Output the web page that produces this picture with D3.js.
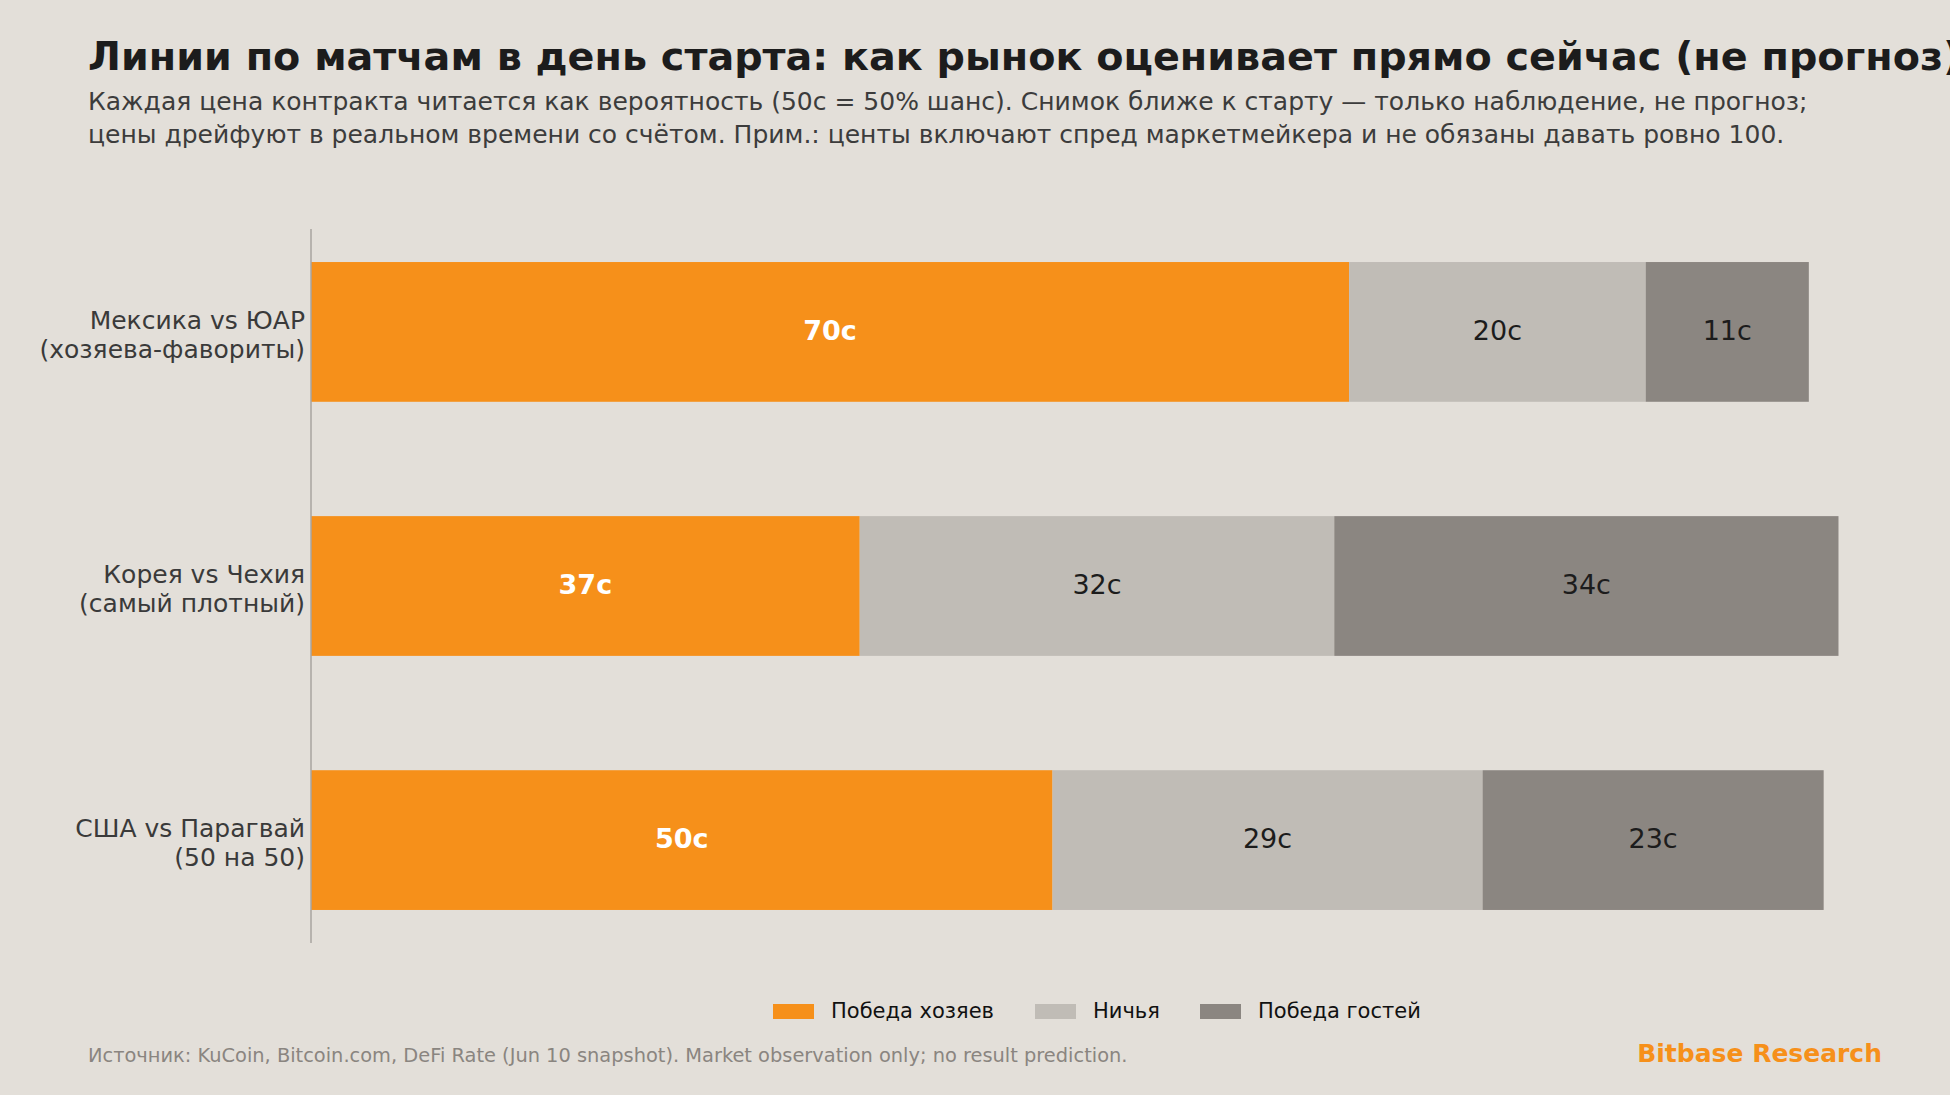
<!DOCTYPE html>
<html>
<head>
<meta charset="utf-8">
<script src="https://cdn.jsdelivr.net/npm/d3@7"></script>
<style>
  html, body { margin: 0; padding: 0; background: #e3dfd9; }
  svg { display: block; font-family: "DejaVu Sans", sans-serif; }
</style>
</head>
<body>
<div id="chart"></div>
<script>
// matches, top to bottom
const matches = ["Мексика vs ЮАР|(хозяева-фавориты)", "Корея vs Чехия|(самый плотный)", "США vs Парагвай|(50 на 50)"];
const homeWin = [70, 37, 50];
const draw = [20, 32, 29];
const awayWin = [11, 34, 23];
const seriesNames = ["Победа хозяев", "Ничья", "Победа гостей"];
const seriesColors = ["#f6901a", "#c0bcb6", "#8b8681"];

let width = 1950;
let height = 1095;

let svg = d3.select("#chart")
  .append("svg")
  .attr("width", width)
  .attr("height", height);

svg.append("rect").attr("width", width).attr("height", height).attr("fill", "#e3dfd9");

/* titles */
svg.append("text")
  .attr("x", 88).attr("y", 70)
  .attr("font-size", 39.7).attr("font-weight", "bold").attr("fill", "#1c1c1c")
  .text("Линии по матчам в день старта: как рынок оценивает прямо сейчас (не прогноз)");

svg.append("text")
  .attr("x", 88).attr("y", 110)
  .attr("font-size", 25).attr("fill", "#3c3c3c")
  .text("Каждая цена контракта читается как вероятность (50c = 50% шанс). Снимок ближе к старту — только наблюдение, не прогноз;");
svg.append("text")
  .attr("x", 88).attr("y", 143)
  .attr("font-size", 25).attr("fill", "#3c3c3c")
  .text("цены дрейфуют в реальном времени со счётом. Прим.: центы включают спред маркетмейкера и не обязаны давать ровно 100.");

/* stacked data */
let rows = matches.map((m, i) => ({ match: m, values: [homeWin[i], draw[i], awayWin[i]] }));
let stacked = rows.map(r => {
  let acc = 0;
  return r.values.map((v, k) => {
    let seg = { match: r.match, k, x0: acc, x1: acc + v, v };
    acc += v;
    return seg;
  });
});
let maxTotal = d3.max(rows, r => d3.sum(r.values));

/* scales */
let xScale = d3.scaleLinear()
  .domain([0, maxTotal * 1.05])
  .range([311, 311 + maxTotal * 1.05 * 14.83]);

let yScale = d3.scaleBand()
  .domain(matches)
  .range([229, 943])
  .paddingInner(0.45)
  .paddingOuter(0.13);

/* bars */
let groups = svg.append("g").attr("class", "bars")
  .selectAll("g")
  .data(stacked)
  .enter()
  .append("g");

groups.selectAll("rect")
  .data(d => d)
  .enter()
  .append("rect")
  .attr("x", d => xScale(d.x0))
  .attr("width", d => xScale(d.x1) - xScale(d.x0))
  .attr("y", d => yScale(d.match))
  .attr("height", yScale.bandwidth())
  .attr("fill", d => seriesColors[d.k]);

groups.selectAll("text")
  .data(d => d)
  .enter()
  .append("text")
  .attr("x", d => (xScale(d.x0) + xScale(d.x1)) / 2)
  .attr("y", d => yScale(d.match) + yScale.bandwidth() / 2)
  .attr("dy", "0.3em")
  .attr("text-anchor", "middle")
  .attr("font-size", 27)
  .attr("font-weight", d => d.k === 0 ? "bold" : "normal")
  .attr("fill", d => d.k === 0 ? "#ffffff" : "#1c1c1c")
  .text(d => d.v + "c");

/* y axis: spine + labels */
svg.append("line")
  .attr("x1", 311).attr("x2", 311)
  .attr("y1", 229).attr("y2", 943)
  .attr("stroke", "#a9a59f").attr("stroke-width", 1.5);

let yLabels = svg.append("g").selectAll("text")
  .data(matches)
  .enter()
  .append("text")
  .attr("text-anchor", "end")
  .attr("font-size", 25)
  .attr("fill", "#3a3a3a");

yLabels.each(function (m) {
  let cy = yScale(m) + yScale.bandwidth() / 2;
  let parts = m.split("|");
  d3.select(this).selectAll("tspan")
    .data(parts)
    .enter()
    .append("tspan")
    .attr("x", 305)
    .attr("y", (p, i) => cy - 3 + i * 29)
    .text(p => p);
});

/* legend */
let legendX = [773, 1035, 1200];
let legend = svg.append("g").selectAll("g")
  .data(seriesNames)
  .enter()
  .append("g")
  .attr("transform", (d, i) => `translate(${legendX[i]}, 1004)`);

legend.append("rect")
  .attr("width", 41).attr("height", 15)
  .attr("fill", (d, i) => seriesColors[i]);

legend.append("text")
  .attr("x", 58).attr("y", 14)
  .attr("font-size", 21).attr("fill", "#111")
  .text(d => d);

/* footer */
svg.append("text")
  .attr("x", 88).attr("y", 1062)
  .attr("font-size", 19.4).attr("fill", "#8a8580")
  .text("Источник: KuCoin, Bitcoin.com, DeFi Rate (Jun 10 snapshot). Market observation only; no result prediction.");

svg.append("text")
  .attr("x", 1882).attr("y", 1062)
  .attr("text-anchor", "end")
  .attr("font-size", 25).attr("font-weight", "bold").attr("fill", "#f6901a")
  .text("Bitbase Research");
</script>
</body>
</html>
